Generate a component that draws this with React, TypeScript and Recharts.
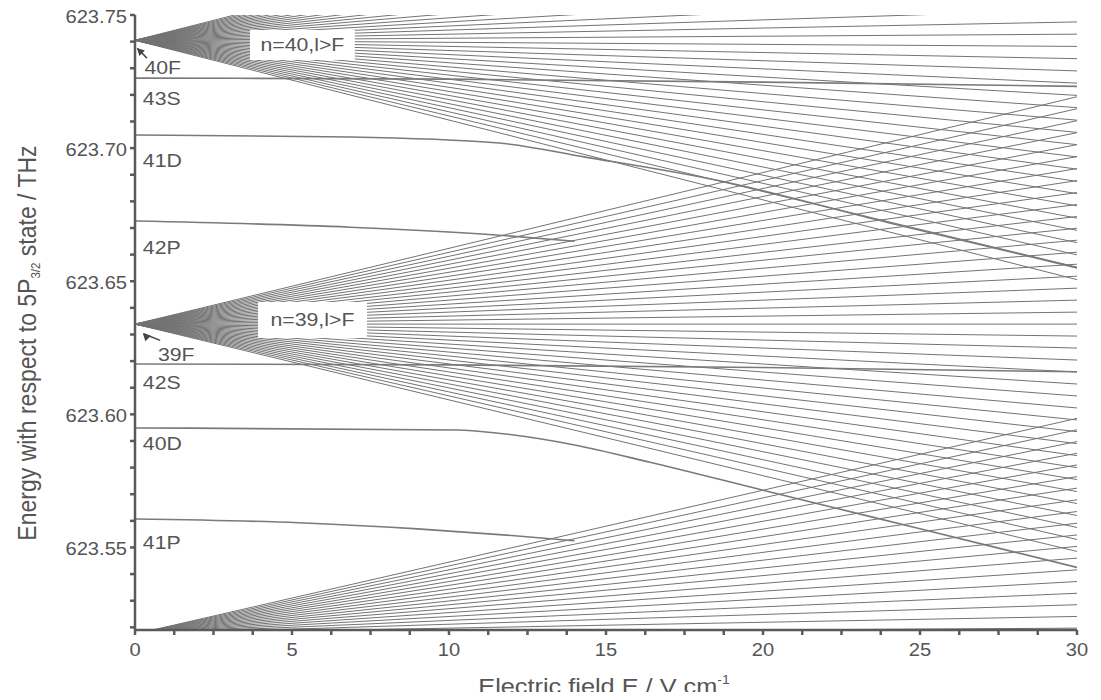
import React from "react";
import {
  LineChart,
  Line,
  XAxis,
  YAxis,
  ReferenceArea,
  ReferenceDot,
  ReferenceLine,
} from "recharts";

const FONT = "'Liberation Sans', Arial, Helvetica, sans-serif";
const INK = "#555";
const STRETCH = 1.15;

const FIELD_MAX = 30;

// zero-field position of each hydrogenic manifold (THz)
const n40Center = 623.7405;
const n39Center = 623.6339;
const n38Center = 623.5175;

// energy of each Stark line at 30 V/cm (read at the right edge / extrapolated)
const n40Ends = [
  623.6506, 623.6553, 623.6599, 623.6645, 623.6691, 623.6737, 623.6783, 623.6829,
  623.6875, 623.6921, 623.6967, 623.7013, 623.7059, 623.7105, 623.7152, 623.7198,
  623.7244, 623.729, 623.7336, 623.7382, 623.7428, 623.7474, 623.752, 623.7566,
  623.7612, 623.7658, 623.7705, 623.7751, 623.7797, 623.7843, 623.7889, 623.7935,
  623.7981, 623.8027, 623.8073, 623.8119, 623.8165, 623.8211, 623.8257, 623.8304,
];
const n39Ends = [
  623.5485, 623.553, 623.5575, 623.562, 623.5665, 623.571, 623.5755, 623.58,
  623.5845, 623.589, 623.5935, 623.5979, 623.6024, 623.6069, 623.6114, 623.6159,
  623.6204, 623.6249, 623.6294, 623.6339, 623.6384, 623.6429, 623.6474, 623.6519,
  623.6564, 623.6609, 623.6654, 623.6699, 623.6743, 623.6788, 623.6833, 623.6878,
  623.6923, 623.6968, 623.7013, 623.7058, 623.7103, 623.7148, 623.7193,
];
// only the upward n=38 lines come into view, the rest stay under the axis
const n38Ends = [
  623.5197, 623.5241, 623.5285, 623.5328, 623.5372, 623.5416, 623.546, 623.5504,
  623.5547, 623.5591, 623.5635, 623.5679, 623.5723, 623.5766, 623.581, 623.5854,
  623.5898, 623.5942, 623.5985,
];

// low-l states, [field, energy]
const s43: [number, number][] = [[0, 623.7263], [10, 623.7259], [20, 623.7248], [30, 623.7232]];
const d41: [number, number][] = [
  [0, 623.7049], [6.85, 623.7042], [11.6, 623.7019], [14.3, 623.6967],
  [18.5, 623.688], [24, 623.672], [30, 623.655],
];
const p42: [number, number][] = [[0, 623.6726], [6.85, 623.6703], [11.6, 623.6673], [14, 623.665]];
const s42: [number, number][] = [[0, 623.6189], [10, 623.6186], [20, 623.6176], [30, 623.616]];
const d40: [number, number][] = [
  [0, 623.5949], [10.3, 623.5941], [11.5, 623.593], [14, 623.5885],
  [16.4, 623.582], [20, 623.5715], [25, 623.557], [30, 623.5425],
];
const p41: [number, number][] = [[0, 623.5607], [5.2, 623.5593], [9, 623.557], [12, 623.5545], [14, 623.5525]];

const stateLabels: { name: string; x: number; y: number }[] = [
  { name: "40F", x: 0.3, y: 623.7301 },
  { name: "43S", x: 0.25, y: 623.7188 },
  { name: "41D", x: 0.25, y: 623.6955 },
  { name: "42P", x: 0.25, y: 623.6628 },
  { name: "39F", x: 0.73, y: 623.6223 },
  { name: "42S", x: 0.25, y: 623.6118 },
  { name: "40D", x: 0.25, y: 623.5892 },
  { name: "41P", x: 0.25, y: 623.552 },
];

const xTicks = [
  0, 1.25, 2.5, 3.75, 5, 6.25, 7.5, 8.75, 10, 11.25, 12.5, 13.75, 15, 16.25, 17.5,
  18.75, 20, 21.25, 22.5, 23.75, 25, 26.25, 27.5, 28.75, 30,
];
const yTicks = [
  623.52, 623.53, 623.54, 623.55, 623.56, 623.57, 623.58, 623.59, 623.6, 623.61,
  623.62, 623.63, 623.64, 623.65, 623.66, 623.67, 623.68, 623.69, 623.7, 623.71,
  623.72, 623.73, 623.74, 623.75,
];

const fan = (center: number, end: number) => [
  { x: 0, y: center },
  { x: FIELD_MAX, y: end },
];
const curve = (pts: [number, number][]) => pts.map(([x, y]) => ({ x, y }));

function XTick(props: any) {
  const { x, y, payload } = props;
  const v = payload.value as number;
  if (Math.abs(v / 5 - Math.round(v / 5)) > 1e-6) return <g />;
  return (
    <text
      transform={`translate(${x},${y + 18}) scale(${STRETCH},1)`}
      textAnchor="middle"
      fill={INK}
      fontSize={17.5}
      fontFamily={FONT}
    >
      {v}
    </text>
  );
}

function YTick(props: any) {
  const { x, y, payload } = props;
  const v = payload.value as number;
  if (Math.round(v * 100) % 5 !== 0) return <g />;
  return (
    <text
      transform={`translate(${x},${y + 8}) scale(${STRETCH},1)`}
      textAnchor="end"
      fill={INK}
      fontSize={17.5}
      fontFamily={FONT}
    >
      {v.toFixed(2)}
    </text>
  );
}

const textShape = (txt: string, size: number, anchor: "start" | "middle") => (p: any) =>
  (
    <text
      transform={`translate(${p.cx},${p.cy + size * 0.35}) scale(${STRETCH},1)`}
      textAnchor={anchor}
      fill={INK}
      fontSize={size}
      fontFamily={FONT}
    >
      {txt}
    </text>
  );

const arrowHead = (p: any) => (
  <polygon
    points={`${p.cx},${p.cy} ${p.cx + 8},${p.cy + 2.5} ${p.cx + 2.5},${p.cy + 8}`}
    fill="#444"
  />
);

export default function App() {
  const lineProps = {
    dataKey: "y",
    dot: false,
    activeDot: false,
    isAnimationActive: false,
    type: "linear" as const,
  };

  return (
    <div style={{ position: "relative", width: 1085, height: 684 }}>
      <LineChart width={1085} height={684} margin={{ top: 7, right: 16, left: 47, bottom: 0 }}>
        <XAxis
          dataKey="x"
          type="number"
          domain={[0, FIELD_MAX]}
          ticks={xTicks}
          interval={0}
          height={62}
          tick={<XTick />}
          tickSize={5}
          tickMargin={3}
          stroke="#5a5a5a"
          strokeWidth={2.5}
          allowDataOverflow
        />
        <YAxis
          type="number"
          domain={[623.519, 623.75]}
          ticks={yTicks}
          interval={0}
          width={80}
          tick={<YTick />}
          tickSize={5}
          tickMargin={3}
          stroke="#5a5a5a"
          strokeWidth={2.5}
          allowDataOverflow
        />

        {n38Ends.map((e, i) => (
          <Line key={`n38-${i}`} {...lineProps} data={fan(n38Center, e)} stroke="#737373" strokeWidth={1} />
        ))}
        {n39Ends.map((e, i) => (
          <Line key={`n39-${i}`} {...lineProps} data={fan(n39Center, e)} stroke="#737373" strokeWidth={1} />
        ))}
        {n40Ends.map((e, i) => (
          <Line key={`n40-${i}`} {...lineProps} data={fan(n40Center, e)} stroke="#737373" strokeWidth={1} />
        ))}

        {[s43, d41, p42, s42, d40, p41].map((pts, i) => (
          <Line
            key={`low-${i}`}
            {...lineProps}
            type="monotone"
            data={curve(pts)}
            stroke="#7a7a7a"
            strokeWidth={1.6}
          />
        ))}

        <ReferenceArea x1={3.66} x2={7.0} y1={623.7331} y2={623.7444} fill="#fff" fillOpacity={1} stroke="none" zIndex={1500} />
        <ReferenceArea x1={3.92} x2={7.39} y1={623.6287} y2={623.6422} fill="#fff" fillOpacity={1} stroke="none" zIndex={1500} />
        <ReferenceDot x={5.33} y={623.7388} shape={textShape("n=40,l>F", 18.5, "middle")} zIndex={1600} />
        <ReferenceDot x={5.65} y={623.6355} shape={textShape("n=39,l>F", 18.5, "middle")} zIndex={1600} />

        <ReferenceLine segment={[{ x: 0.38, y: 623.7338 }, { x: 0.08, y: 623.7374 }]} stroke="#444" strokeWidth={1.5} zIndex={1600} />
        <ReferenceDot x={0.06} y={623.7376} shape={arrowHead} zIndex={1600} />
        <ReferenceLine segment={[{ x: 0.8, y: 623.6278 }, { x: 0.27, y: 623.6303 }]} stroke="#444" strokeWidth={1.5} zIndex={1600} />
        <ReferenceDot x={0.25} y={623.6305} shape={arrowHead} zIndex={1600} />

        {stateLabels.map((s) => (
          <ReferenceDot key={s.name} x={s.x} y={s.y} shape={textShape(s.name, 18.5, "start")} zIndex={1600} />
        ))}
      </LineChart>

      <div
        style={{
          position: "absolute",
          left: 596,
          top: 661,
          transform: `translateX(-50%) scale(${STRETCH},1)`,
          whiteSpace: "nowrap",
          fontFamily: FONT,
          fontSize: 22,
          lineHeight: "22px",
          color: INK,
        }}
      >
        Electric field E / V cm<sup style={{ fontSize: "0.55em", verticalAlign: "0.8em" }}>-1</sup>
      </div>
      <div
        style={{
          position: "absolute",
          left: 24,
          top: 335,
          transform: `translate(-50%,-50%) rotate(-90deg) scale(1,${STRETCH})`,
          whiteSpace: "nowrap",
          fontFamily: FONT,
          fontSize: 23,
          lineHeight: "23px",
          color: INK,
        }}
      >
        Energy with respect to 5P<sub style={{ fontSize: "0.5em", verticalAlign: "-0.3em" }}>3/2</sub> state / THz
      </div>
    </div>
  );
}
